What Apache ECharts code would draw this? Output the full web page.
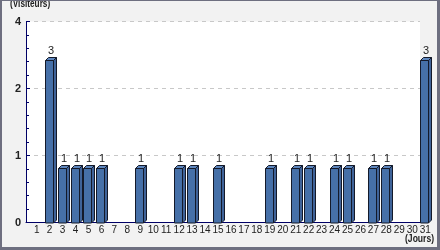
<!DOCTYPE html>
<html><head><meta charset="utf-8">
<script src="https://cdn.jsdelivr.net/npm/echarts@6/dist/echarts.min.js"></script>
<style>html,body{margin:0;padding:0;background:#f2f2f2;}#c{width:440px;height:250px;}</style>
</head><body><div id="c"></div>
<script>
const days = ['1','2','3','4','5','6','7','8','9','10','11','12','13','14','15','16','17','18','19','20','21','22','23','24','25','26','27','28','29','30','31'];
const visitors = [0,3,1,1,1,1,0,0,1,0,0,1,1,0,1,0,0,0,1,0,1,1,0,1,1,0,1,1,0,0,3];
const yMax = 3.7;
const yTitle = '(Visiteurs)';
const xTitle = '(Jours)';

const FONT = '"Liberation Sans",Arial,sans-serif';
const chart = echarts.init(document.getElementById('c'), null, {renderer:'canvas'});
const data = days.map((d,i)=>[i, visitors[i]]).filter(p=>p[1]>0);

chart.setOption({
  animation:false,
  backgroundColor:'#f2f2f2',
  grid:[
    {left:26,right:20,top:21.5,bottom:27.5,show:true,backgroundColor:'#ffffff',borderWidth:0},
    {left:30.2,right:8.3,top:21.5,bottom:27.5}
  ],
  xAxis:[
    {gridIndex:0,type:'value',min:0,max:1,show:true,axisLine:{show:true,onZero:false,lineStyle:{color:'#000066',width:1}},axisTick:{show:false},axisLabel:{show:false},splitLine:{show:false}},
    {gridIndex:1,type:'category',data:days,boundaryGap:true,axisLine:{show:false},axisTick:{show:false},splitLine:{show:false},
      axisLabel:{interval:0,margin:3,color:'#222',fontSize:10,fontFamily:FONT}}
  ],
  yAxis:[
    {gridIndex:0,type:'value',min:0,max:yMax,interval:yMax/3,
      axisLine:{show:true,lineStyle:{color:'#000066',width:1}},
      axisTick:{show:true,inside:true,length:4,lineStyle:{color:'#000066'}},
      minorTick:{show:true,splitNumber:5,length:3,lineStyle:{color:'#000066'}},
      axisLabel:{margin:5,color:'#222',fontSize:11,fontWeight:'bold',fontFamily:FONT,formatter:v=>String(Math.round(v))},
      splitLine:{show:true,lineStyle:{color:'#c8c8c8',type:[4,4],width:1}}},
    {gridIndex:1,type:'value',min:0,max:yMax,show:false,splitLine:{show:false}}
  ],
  series:[{
    type:'custom',xAxisIndex:1,yAxisIndex:1,clip:false,data:data,
    renderItem:function(params,api){
      const x=api.value(0), v=api.value(1);
      const p=api.coord([x,v]), p0=api.coord([x,0]);
      const bw=8, d=3;
      const l=Math.round(p[0]-5)+0.5, r=l+bw, t=Math.round(p[1])+0.5, b=Math.round(p0[1]);
      const st={stroke:'#141a2a',lineWidth:1};
      return {type:'group',children:[
        {type:'polygon',shape:{points:[[r,t],[r+d,t-d],[r+d,b-d],[r,b]]},style:Object.assign({fill:'#3f6399'},st)},
        {type:'polygon',shape:{points:[[l,t],[l+d,t-d],[r+d,t-d],[r,t]]},style:Object.assign({fill:'#5e86bd'},st)},
        {type:'rect',shape:{x:l,y:t,width:bw,height:b-t},style:Object.assign({fill:'#4670a8'},st)},
        {type:'text',style:{text:String(v),x:l+bw/2+1.5,y:t-d-1,align:'center',verticalAlign:'bottom',fill:'#222',font:'11px '+FONT}}
      ]};
    }
  }],
  graphic:[
    {type:'text',x:10,y:-2,scaleX:0.75,style:{text:yTitle,fill:'#222',font:'bold 11px '+FONT}},
    {type:'text',x:405,y:233,scaleX:0.78,style:{text:xTitle,fill:'#222',font:'bold 11px '+FONT}},
    {type:'rect',shape:{x:0,y:0,width:2,height:250},style:{fill:'#6e6f80'}},
    {type:'rect',shape:{x:0,y:0,width:440,height:1},style:{fill:'#6e6f80'}},
    {type:'rect',shape:{x:437,y:0,width:3,height:250},style:{fill:'#6e6f80'}},
    {type:'rect',shape:{x:0,y:247,width:440,height:3},style:{fill:'#6e6f80'}}
  ]
});
</script></body></html>
